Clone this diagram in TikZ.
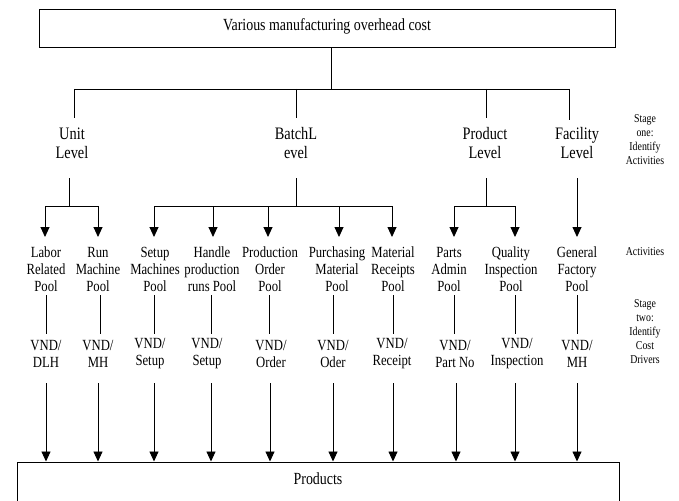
\documentclass[tikz,border=0pt]{standalone}
\usepackage{fontspec}
\setmainfont{Liberation Serif}[FakeStretch=0.82]
\usetikzlibrary{arrows.meta}
\begin{document}
\begin{tikzpicture}[x=1pt,y=-1pt,
  ln/.style={line width=0.9pt},
  arr/.style={line width=0.9pt,-{Triangle[width=9pt,length=10pt]}},
  boxst/.style={draw,line width=1pt,inner sep=0pt},
  lvl/.style={align=center,inner sep=0pt,font=\fontsize{17.5}{19}\selectfont},
  pool/.style={align=center,inner sep=0pt,font=\fontsize{15.5}{17}\selectfont},
  stg/.style={align=center,inner sep=0pt,font=\fontsize{12}{14}\selectfont}]
\clip (0,0) rectangle (679,500);
\fill[white] (0,0) rectangle (679,500);
% top box
\node[boxst,minimum width=576pt,minimum height=38pt] (top) at (327,29) {};
\node[inner sep=0pt,font=\fontsize{17}{19}\selectfont] (toptxt) at (327,26) {Various manufacturing overhead cost};
\coordinate (hub) at (331,89);
\coordinate (hL) at (74,89);
\coordinate (hR) at (569,89);
\draw[ln] (top.south -| hub) -- (hub);
\draw[ln] (hL) -- (hR);
% level labels
\node[lvl] (unit) at (72,143) {Unit\\Level};
\node[lvl] (batch) at (296,143) {BatchL\\evel};
\node[lvl] (prodlev) at (485,143) {Product\\Level};
\node[lvl] (fac) at (577,143) {Facility\\Level};
\coordinate (d1) at (74,118);
\coordinate (d2) at (296,118);
\coordinate (d3) at (486,118);
\coordinate (d4) at (569,120);
\draw[ln] (hL) -- (d1);
\draw[ln] (hub -| d2) -- (d2);
\draw[ln] (hub -| d3) -- (d3);
\draw[ln] (hR) -- (d4);
% stage labels
\node[stg] (stage1) at (645,140) {Stage\\one:\\Identify\\Activities};
\node[stg] (act) at (645,252) {Activities};
\node[stg] (stage2) at (645,332) {Stage\\two:\\Identify\\Cost\\Drivers};
% lower trees
\coordinate (u0) at (69,178); \coordinate (u1) at (69,206);
\draw[ln] (u0) -- (u1);
\draw[ln] (45,206) coordinate (uL) -- (98,206) coordinate (uR);
\coordinate (b0) at (296,178); \coordinate (b1) at (296,206);
\draw[ln] (b0) -- (b1);
\draw[ln] (154,206) coordinate (bL) -- (392,206) coordinate (bR);
\coordinate (p0) at (486,178); \coordinate (p1) at (486,206);
\draw[ln] (p0) -- (p1);
\draw[ln] (454,206) coordinate (pL) -- (515,206) coordinate (pR);
\coordinate (f0) at (577,178);
\foreach \x [count=\i] in {45,98,154,213,268,339,392,454,515} {
  \coordinate (t\i) at (\x,206);
  \coordinate (h\i) at (\x,237);
  \draw[arr] (t\i) -- (h\i);
}
\coordinate (h10) at (577,237);
\draw[arr] (f0) -- (h10);
% pools
\foreach \x/\t [count=\i] in {46/{Labor\\Related\\Pool},98/{Run\\Machine\\Pool},155/{Setup\\Machines\\Pool},212/{Handle\\production\\runs Pool},270/{Production\\Order\\Pool},337/{Purchasing\\Material\\Pool},393/{Material\\Receipts\\Pool},449/{Parts\\Admin\\Pool},511/{Quality\\Inspection\\Pool},577/{General\\Factory\\Pool}} {
  \node[pool] (pool\i) at (\x,269) {\t};
}
% connectors pool -> driver
\foreach \x [count=\i] in {46,100,154,211,269,333,393,454,515,577} {
  \coordinate (s\i) at (\x,295);
  \coordinate (e\i) at (\x,334);
  \draw[ln] (s\i) -- (e\i);
}
% drivers
\foreach \x/\t [count=\i] in {46/{VND/\\DLH},98/{VND/\\MH},150/{VND/\\Setup},207/{VND/\\Setup},271/{VND/\\Order},333/{VND/\\Oder},392/{VND/\\Receipt},455/{VND/\\Part No},517/{VND/\\Inspection},577/{VND/\\MH}} {
  \node[pool] (drv\i) at (\x,354) {\t};
}
% products box
\node[boxst,minimum width=602pt,minimum height=60pt] (prod) at (318,492) {};
\node[inner sep=0pt,font=\fontsize{17}{19}\selectfont] (prodtxt) at (318,479) {Products};
\foreach \x [count=\i] in {46,98,154,211,270,333,393,456,515,577} {
  \coordinate (q\i) at (\x,383);
  \draw[arr] (q\i) -- (q\i |- prod.north);
}
\end{tikzpicture}
\end{document}
